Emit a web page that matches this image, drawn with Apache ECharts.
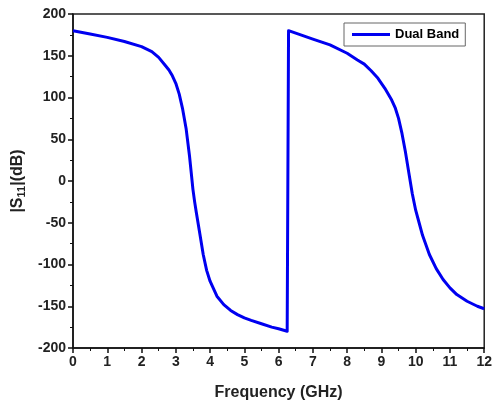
<!DOCTYPE html>
<html><head><meta charset="utf-8">
<script src="https://cdn.jsdelivr.net/npm/echarts@6/dist/echarts.min.js"></script>
<style>html,body{margin:0;padding:0;background:#fff}#c{width:495px;height:406px}</style>
</head><body><div id="c"></div>
<script>
const freq = [0,0.5,1,1.5,2,2.3,2.5,2.7,2.8,2.9,3.0,3.1,3.2,3.3,3.4,3.45,3.5,3.55,3.6,3.7,3.8,3.9,4.0,4.2,4.4,4.6,4.8,5.0,5.2,5.5,5.8,6.0,6.25,6.26,6.29,6.5,7.0,7.5,8.0,8.3,8.5,8.7,8.9,9.1,9.3,9.4,9.5,9.6,9.7,9.8,9.9,10.0,10.1,10.2,10.4,10.6,10.8,11.0,11.2,11.5,11.8,12.0];
const s11 = [180,176,172,167,161,155,148,138,133,126,117,104,86,63,30,10,-10,-25,-38,-63,-88,-107,-120,-138,-148,-155,-160,-164,-167,-171,-175,-177,-180,-90,180,177,170,163,153,145,140,132,123,111,97,88,75,57,35,10,-15,-35,-50,-65,-88,-105,-118,-128,-136,-144,-150,-153];
const seriesName = 'Dual Band';
const xTicks = {min:0, max:12, interval:1};
const yTicks = {min:-200, max:200, interval:50};

const chart = echarts.init(document.getElementById('c'));
const font = '"Liberation Sans", Arial, sans-serif';
chart.setOption({
  animation:false,
  grid:{left:73,right:9,top:14,bottom:58,show:true,borderColor:'#222',borderWidth:1.5},
  legend:{data:[{name:seriesName,icon:'rect'}],left:344,top:23,itemWidth:38,itemHeight:3,itemGap:4,padding:[5,6,5,8],
    borderColor:'#666',borderWidth:1,borderRadius:0,
    textStyle:{fontFamily:font,fontWeight:'bold',fontSize:13,color:'#000'}},
  xAxis:{type:'value',min:xTicks.min,max:xTicks.max,interval:xTicks.interval,
    name:'Frequency (GHz)',nameLocation:'middle',nameGap:37,
    nameTextStyle:{fontFamily:font,fontWeight:'bold',fontSize:16,color:'#222'},
    axisLine:{onZero:false,lineStyle:{color:'#111',width:1.5}},
    axisTick:{inside:false,length:5,lineStyle:{color:'#111',width:1.5}},
    minorTick:{show:true,splitNumber:2,length:3,lineStyle:{color:'#111',width:1}},
    axisLabel:{fontFamily:font,fontWeight:'bold',fontSize:14,color:'#222',margin:7},
    splitLine:{show:false}},
  yAxis:{type:'value',min:yTicks.min,max:yTicks.max,interval:yTicks.interval,
    name:'|S{sub|11}|(dB)',nameLocation:'middle',nameGap:44,
    nameTextStyle:{fontFamily:font,fontWeight:'bold',fontSize:16,color:'#222',
      rich:{sub:{fontFamily:font,fontWeight:'bold',fontSize:11,verticalAlign:'bottom',padding:[8,0,0,0]}}},
    axisLine:{onZero:false,lineStyle:{color:'#111',width:1.5}},
    axisTick:{inside:false,length:5,lineStyle:{color:'#111',width:1.5}},
    minorTick:{show:true,splitNumber:2,length:3,lineStyle:{color:'#111',width:1}},
    axisLabel:{fontFamily:font,fontWeight:'bold',fontSize:14,color:'#222',margin:7},
    splitLine:{show:false}},
  series:[{name:seriesName,type:'line',symbol:'none',smooth:false,
    data:freq.map((f,i)=>[f,s11[i]]),
    lineStyle:{color:'#0000f0',width:3,join:'round'},itemStyle:{color:'#0000f0'}}]
});
</script></body></html>
